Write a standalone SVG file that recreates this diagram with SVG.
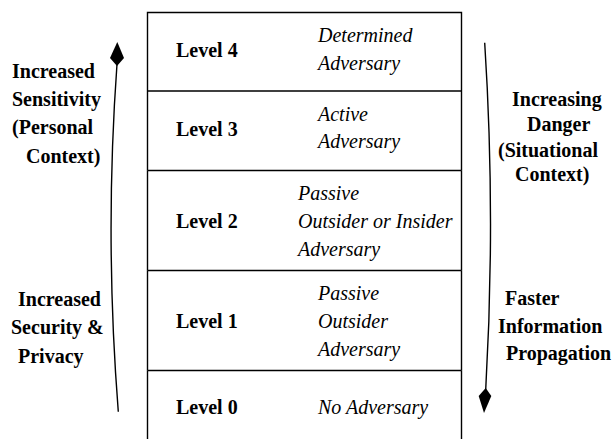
<svg xmlns="http://www.w3.org/2000/svg" width="613" height="439" viewBox="0 0 613 439">
<style>
.frame{fill:none;stroke:#000;stroke-width:1.4}
.lvl{font-family:"Liberation Serif","Times New Roman",serif;font-weight:bold;font-size:20px;fill:#000}
.adv{font-family:"Liberation Serif","Times New Roman",serif;font-style:italic;font-size:20px;fill:#000}
.side{font-family:"Liberation Serif","Times New Roman",serif;font-weight:bold;font-size:20px;fill:#000}
.conn{fill:none;stroke:#000;stroke-width:1.4}
.head{fill:#000;stroke:none}
</style>
<rect width="613" height="439" fill="#fff"/>
<g id="level4">
<path class="frame" d="M147.5,91 V12.5 H461.5 V91"/>
<text class="lvl" x="176" y="57">Level 4</text>
<text class="adv" x="318" y="42">Determined</text>
<text class="adv" x="318" y="70">Adversary</text>
</g>
<g id="level3">
<path class="frame" d="M147.5,91 H461.5 M147.5,91 V170.5 M461.5,91 V170.5"/>
<text class="lvl" x="176" y="136">Level 3</text>
<text class="adv" x="318" y="121">Active</text>
<text class="adv" x="318" y="148">Adversary</text>
</g>
<g id="level2">
<path class="frame" d="M147.5,170.5 H461.5 M147.5,170.5 V270.5 M461.5,170.5 V270.5"/>
<text class="lvl" x="176" y="228">Level 2</text>
<text class="adv" x="298" y="200">Passive</text>
<text class="adv" x="298" y="228">Outsider or Insider</text>
<text class="adv" x="298" y="256">Adversary</text>
</g>
<g id="level1">
<path class="frame" d="M147.5,270.5 H461.5 M147.5,270.5 V370.5 M461.5,270.5 V370.5"/>
<text class="lvl" x="176" y="328">Level 1</text>
<text class="adv" x="318" y="300">Passive</text>
<text class="adv" x="318" y="328">Outsider</text>
<text class="adv" x="318" y="356">Adversary</text>
</g>
<g id="level0">
<path class="frame" d="M147.5,370.5 H461.5 M147.5,370.5 V439 M461.5,370.5 V439"/>
<text class="lvl" x="176" y="414">Level 0</text>
<text class="adv" x="318" y="414">No Adversary</text>
</g>
<g id="label-sensitivity">
<text class="side" x="12" y="78">Increased</text>
<text class="side" x="12" y="106">Sensitivity</text>
<text class="side" x="12" y="134">(Personal</text>
<text class="side" x="26" y="163">Context)</text>
</g>
<g id="label-security">
<text class="side" x="18" y="306">Increased</text>
<text class="side" x="11" y="334">Security &amp;</text>
<text class="side" x="18" y="363">Privacy</text>
</g>
<g id="label-danger">
<text class="side" x="512" y="106">Increasing</text>
<text class="side" x="527" y="131">Danger</text>
<text class="side" x="498" y="157">(Situational</text>
<text class="side" x="515" y="181">Context)</text>
</g>
<g id="label-propagation">
<text class="side" x="505" y="305">Faster</text>
<text class="side" x="498" y="333">Information</text>
<text class="side" x="506" y="360">Propagation</text>
</g>
<g id="connectors">
<path class="conn" d="M118.3,411.7 Q104.5,237 117,64"/>
<polygon class="head" points="117.3,42 124,58 117,66 110,58"/>
<path class="conn" d="M484.7,42.7 Q495.8,215 485.7,390"/>
<polygon class="head" points="484,413 478.7,396 485.7,388 491.3,396"/>
</g>
</svg>
